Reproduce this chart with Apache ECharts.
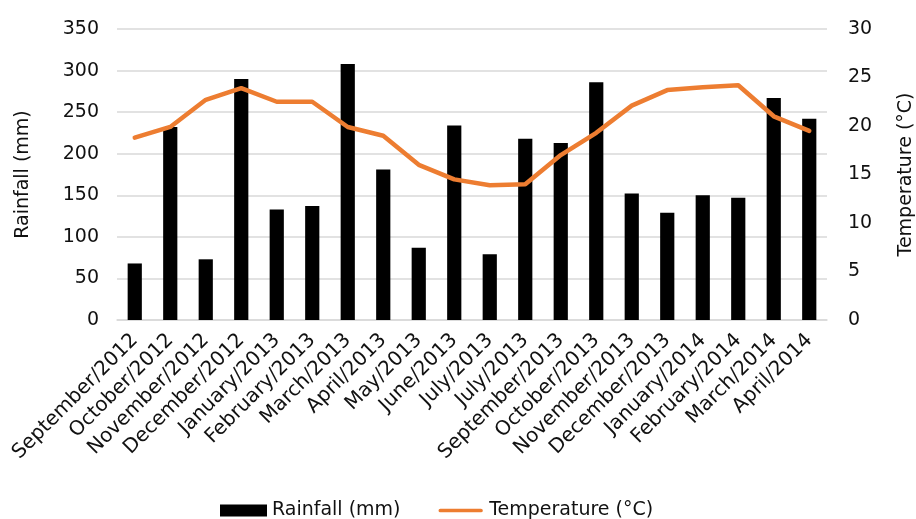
<!DOCTYPE html>
<html>
<head>
<meta charset="utf-8">
<script src="https://cdn.jsdelivr.net/npm/echarts@6/dist/echarts.min.js"></script>
<style>
html,body{margin:0;padding:0;background:#fff;}
#chart{width:916px;height:519px;}
</style>
</head>
<body>
<div id="chart"></div>
<script>
const categories = ["September/2012","October/2012","November/2012","December/2012","January/2013","February/2013","March/2013","April/2013","May/2013","June/2013","July/2013","July/2013","September/2013","October/2013","November/2013","December/2013","January/2014","February/2014","March/2014","April/2014"];
const rainfall = [68,232,73,290,133,137,308,181,87,234,79,218,213,286,152,129,150,147,267,242];
const temperature = [18.8,19.9,22.7,23.9,22.5,22.5,19.9,19.0,16.0,14.5,13.9,14.0,17.0,19.3,22.1,23.7,24.0,24.2,21.0,19.5];
const rainTicks = [0,350,50];
const tempTicks = [0,30,5];

const FONT = '"DejaVu Sans", sans-serif';
const FS = 19;
const TXT = '#111';
const chart = echarts.init(document.getElementById('chart'));
chart.setOption({
  animation:false,
  textStyle:{fontFamily:FONT,color:TXT},
  grid:{left:117,right:89,top:29,bottom:199,containLabel:false,outerBoundsMode:'none'},
  legend:{
    top:496,left:215,itemGap:38,itemWidth:47,itemHeight:12,
    textStyle:{fontSize:FS,color:TXT,fontFamily:FONT},
    data:[
      {name:'Rainfall (mm)',icon:'rect',itemStyle:{color:'#000'}},
      {name:'Temperature (°C)',icon:'path://M0,0 L0.01,0 M2,4.5 L46,4.5 A2,2 0 0 1 46,8.5 L2,8.5 A2,2 0 0 1 2,4.5 Z M0,13 L0.01,13',itemStyle:{color:'#ED7D31'}}
    ]
  },
  xAxis:{
    type:'category',data:categories,
    axisLine:{lineStyle:{color:'#d9d9d9',width:1.5}},
    axisTick:{show:false},
    axisLabel:{interval:0,rotate:45,fontSize:20,color:TXT,margin:17,fontFamily:FONT}
  },
  yAxis:[
    {type:'value',min:rainTicks[0],max:rainTicks[1],interval:rainTicks[2],
     name:'Rainfall (mm)',nameLocation:'middle',nameGap:84,nameRotate:90,
     nameTextStyle:{fontSize:FS,color:TXT,fontFamily:FONT},
     axisLabel:{fontSize:FS,color:TXT,margin:18,fontFamily:FONT},
     axisLine:{show:false},axisTick:{show:false},
     splitLine:{lineStyle:{color:'#d9d9d9',width:1.5}}},
    {type:'value',min:tempTicks[0],max:tempTicks[1],interval:tempTicks[2],
     name:'Temperature (°C)',nameLocation:'middle',nameGap:70,nameRotate:90,
     nameTextStyle:{fontSize:FS,color:TXT,fontFamily:FONT},
     axisLabel:{fontSize:FS,color:TXT,margin:21,fontFamily:FONT},
     axisLine:{show:false},axisTick:{show:false},splitLine:{show:false}}
  ],
  series:[
    {name:'Rainfall (mm)',type:'bar',data:rainfall,yAxisIndex:0,barWidth:'40%',
     itemStyle:{color:'#000'}},
    {name:'Temperature (°C)',type:'line',data:temperature,yAxisIndex:1,
     symbol:'none',lineStyle:{color:'#ED7D31',width:4.5,cap:'round',join:'round'},
     itemStyle:{color:'#ED7D31'}}
  ]
});
</script>
</body>
</html>
